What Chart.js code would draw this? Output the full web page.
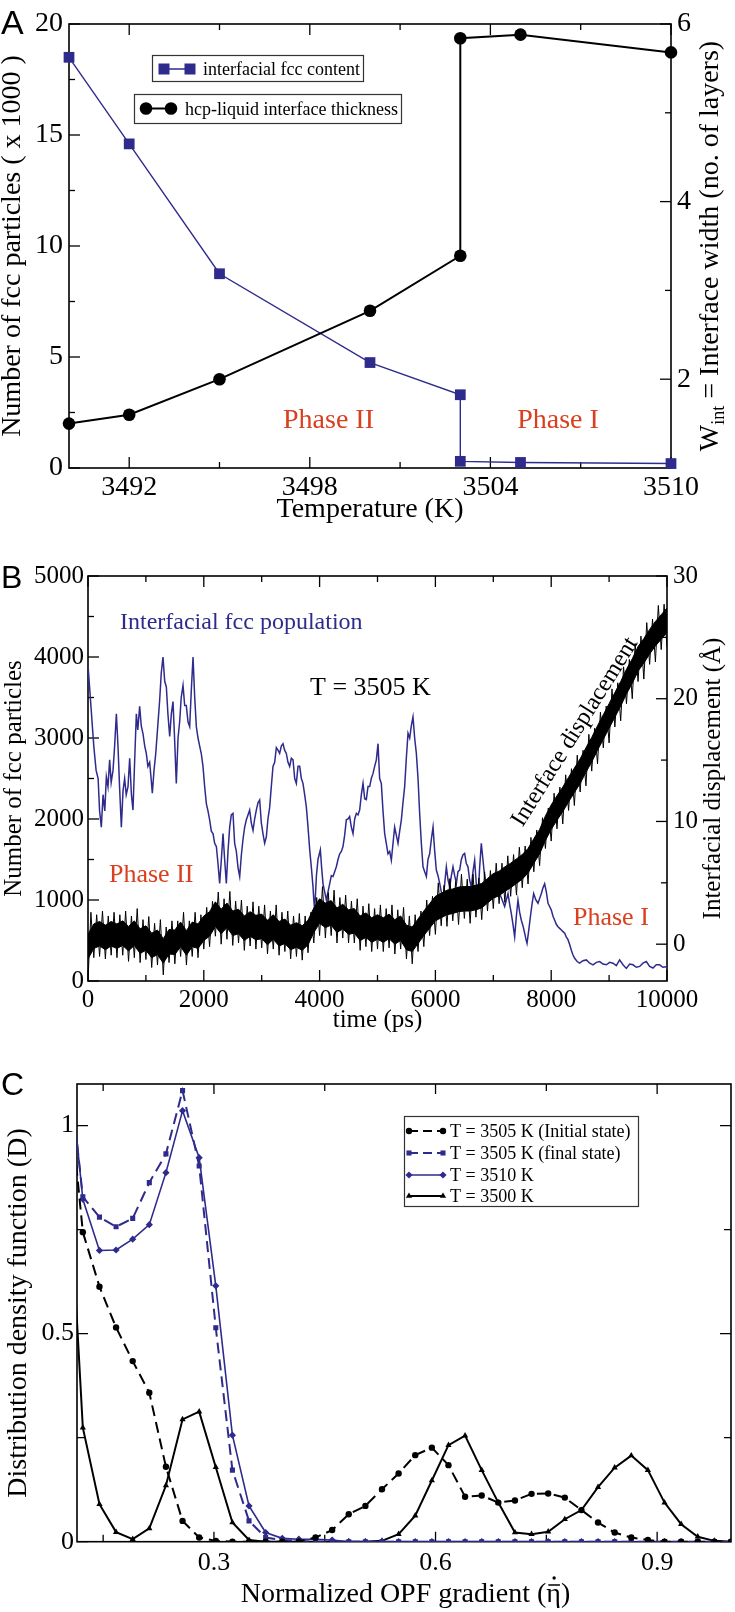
<!DOCTYPE html>
<html>
<head>
<meta charset="utf-8">
<script src="https://cdn.jsdelivr.net/npm/chart.js@4.4.1/dist/chart.umd.min.js"></script>
<style>
html, body { margin: 0; padding: 0; background: #fff; }
#wrap { position: relative; width: 735px; height: 1612px; }
canvas { position: absolute; left: 0; }
</style>
</head>
<body>
<div id="wrap">
  <canvas id="chartA" width="735" height="530" style="top:0;width:735px;height:530px"></canvas>
  <canvas id="chartB" width="735" height="530" style="top:530px;width:735px;height:530px"></canvas>
  <canvas id="chartC" width="735" height="552" style="top:1060px;width:735px;height:552px"></canvas>
</div>
<script>
// ---- panel A: temperature scan ----
const fccTemp = [3490, 3492, 3495, 3500, 3503, 3503, 3505, 3510];
const fccCount = [18.5, 14.6, 8.75, 4.75, 3.3, 0.3, 0.25, 0.2];       // x 1000
const hcpTemp = [3490, 3492, 3495, 3500, 3503, 3503, 3505, 3510];
const hcpWidth = [1.5, 1.6, 2.0, 2.77, 3.39, 5.84, 5.88, 5.68];       // layers
const tempTicks = [3492, 3498, 3504, 3510];
const tempMinor = [3495, 3501, 3507];
const fccTicks = [0, 5, 10, 15, 20];
const fccMinor = [2.5, 7.5, 12.5, 17.5];
const widthTicks = [2, 4, 6];
const widthMinor = [3, 5];

// ---- panel B: time series at 3505 K ----
// [time (ps), interfacial fcc count]
const fccTrace = [
  [0,3900],[30,3600],[60,3300],[100,2900],[140,2600],[175,2500],[200,2100],[230,1900],[260,2300],[290,2100],
  [317,2520],[345,2400],[374,2730],[400,2450],[432,2600],[460,2900],[490,3300],[518,2900],[545,2400],[576,1900],
  [605,2350],[633,2500],[660,2300],[691,2400],[720,2750],[750,2300],[777,2110],[805,2700],[835,3300],[860,3100],
  [892,3390],[920,3150],[950,3050],[980,2900],[1007,2810],[1035,2650],[1065,2700],[1090,2500],[1111,2320],[1140,2600],
  [1169,2800],[1200,3100],[1238,3470],[1265,3800],[1295,4000],[1325,3700],[1353,3630],[1380,3300],[1411,3020],[1440,3300],
  [1468,3450],[1495,3000],[1525,2440],[1555,3000],[1583,3200],[1610,3500],[1641,3650],[1670,3400],[1698,3400],[1727,3200],
  [1756,3140],[1785,3600],[1814,4000],[1843,3500],[1871,3140],[1900,3000],[1929,2900],[1958,2800],[1986,2650],[2015,2400],
  [2044,2190],[2072,2100],[2101,1990],[2130,1850],[2159,1820],[2188,1700],[2217,1660],[2245,1450],[2274,1205],[2303,1500],
  [2332,1820],[2360,1500],[2389,1205],[2418,1600],[2447,1900],[2475,2050],[2504,2070],[2533,1700],[2562,1600],[2591,1400],
  [2620,1290],[2648,1550],[2677,1750],[2706,1900],[2735,1990],[2763,2050],[2792,2110],[2821,1950],[2850,1860],[2878,2000],
  [2907,2110],[2936,2200],[2965,2235],[2994,1950],[3022,1820],[3051,1700],[3080,1780],[3108,2000],[3137,2140],[3166,2400],
  [3195,2650],[3224,2700],[3253,2880],[3281,2850],[3310,2810],[3339,2900],[3368,2930],[3396,2850],[3425,2810],[3454,2700],
  [3483,2650],[3512,2750],[3541,2730],[3570,2500],[3598,2440],[3627,2650],[3656,2650],[3685,2500],[3713,2440],[3742,2300],
  [3771,2150],[3800,1900],[3829,1620],[3858,1400],[3886,1165],[3900,1000],[3915,875],[3945,1300],[3972,1500],[4013,1620],
  [4035,1400],[4059,1200],[4088,1100],[4117,1000],[4145,1100],[4174,1200],[4203,1300],[4232,1290],[4260,1350],[4289,1410],
  [4318,1500],[4347,1570],[4376,1600],[4404,1660],[4433,1800],[4462,1990],[4490,2000],[4519,2030],[4548,1900],[4577,1820],
  [4606,2000],[4635,2070],[4663,2050],[4692,2110],[4721,2300],[4750,2440],[4779,2250],[4807,2240],[4836,2400],[4865,2400],
  [4893,2500],[4922,2560],[4951,2650],[4980,2730],[5009,2930],[5037,2500],[5066,2440],[5095,2100],[5124,1820],[5152,1700],
  [5181,1570],[5210,1600],[5239,1490],[5268,1700],[5296,1900],[5325,1800],[5354,1700],[5383,1850],[5412,1990],[5440,2200],
  [5469,2400],[5498,2750],[5527,3060],[5556,3000],[5584,3150],[5613,3260],[5642,3000],[5671,2810],[5700,2500],[5728,2070],
  [5757,1700],[5786,1410],[5815,1350],[5844,1290],[5872,1500],[5901,1570],[5930,1750],[5959,1900],[5988,1600],[6016,1370],
  [6045,1300],[6074,1205],[6102,1100],[6131,1000],[6160,1200],[6189,1410],[6218,1250],[6247,1160],[6276,1300],[6304,1410],
  [6333,1300],[6362,1205],[6390,1350],[6419,1370],[6448,1500],[6477,1560],[6505,1575],[6534,1450],[6563,1410],[6591,1250],
  [6620,1160],[6649,1350],[6678,1490],[6706,1200],[6735,1000],[6764,1400],[6793,1700],[6821,1500],[6850,1290],[6879,1150],
  [6908,1080],[6937,1200],[6966,1250],[6994,1150],[7023,1160],[7066,1180],[7110,1080],[7153,1000],[7196,920],[7225,1000],
  [7254,1080],[7282,950],[7311,835],[7340,700],[7369,545],[7398,800],[7426,1000],[7455,850],[7484,750],[7513,680],
  [7542,590],[7562,520],[7582,465],[7611,620],[7640,790],[7669,950],[7697,1080],[7735,1000],[7772,960],[7801,1020],
  [7830,1080],[7858,1150],[7887,1200],[7916,1100],[7945,960],[7973,920],[8002,875],[8031,800],[8060,750],[8088,700],
  [8117,670],[8146,650],[8175,630],[8204,610],[8233,590],[8262,540],[8290,510],[8319,450],[8348,380],[8376,320],
  [8405,280],[8448,240],[8491,220],[8549,250],[8607,260],[8665,220],[8722,200],[8780,230],[8837,240],[8895,210],
  [8952,200],[9010,230],[9067,220],[9125,190],[9182,260],[9240,200],[9297,155],[9355,210],[9413,200],[9470,170],
  [9528,180],[9585,220],[9643,240],[9700,180],[9758,160],[9815,200],[9873,200],[9930,170],[9988,175],[10000,180]
];
// [time (ps), lowest spike, highest spike] of the noisy displacement trace (Å)
const dispBand = [
  [0,-3.0,2.6],[100,-1.1,2.4],[200,-1.0,2.7],[300,-1.2,2.3],[400,-0.9,2.6],[500,-1.1,2.4],[600,-0.9,2.7],[700,-1.4,2.3],
  [800,-1.1,2.9],[900,-1.5,2.0],[1000,-1.25,2.25],[1100,-1.9,1.7],[1200,-1.7,2.0],[1300,-2.5,1.4],[1400,-1.5,1.9],
  [1500,-1.6,1.9],[1600,-1.0,2.6],[1700,-1.7,1.9],[1800,-1.0,2.6],[1900,-1.1,2.4],[2000,-0.4,3.0],[2100,-0.2,3.5],
  [2200,0.65,4.25],[2300,0.0,3.7],[2400,0.4,4.3],[2500,-0.1,3.5],[2600,0.1,3.6],[2700,-0.5,3.1],[2800,-0.15,3.45],
  [2900,-0.4,3.1],[3000,-0.3,3.2],[3100,-0.8,2.7],[3200,-0.4,3.2],[3300,-0.9,2.6],[3400,-0.6,2.7],[3500,-1.2,2.3],
  [3600,-1.0,2.5],[3700,-1.3,2.3],[3800,-0.7,2.6],[3900,0.1,3.8],[4000,0.7,4.7],[4100,0.5,4.2],[4200,0.7,4.4],
  [4300,0.1,3.8],[4400,0.5,4.0],[4500,0.1,3.5],[4600,0.1,3.7],[4700,-0.5,3.1],[4800,-0.2,3.3],[4900,-0.6,2.9],
  [5000,-0.4,3.2],[5100,-0.6,2.9],[5200,-0.3,3.2],[5300,-0.8,2.8],[5400,-0.4,3.0],[5500,-1.2,2.3],[5600,-1.6,2.4],
  [5700,-0.6,2.7],[5800,-0.2,3.6],[5900,0.7,3.9],[6000,0.8,5.0],[6100,1.5,4.8],[6200,1.45,5.35],[6300,1.9,5.1],
  [6400,1.6,5.7],[6500,2.1,5.3],[6600,1.7,5.7],[6700,2.2,5.4],[6800,2.0,5.9],[6900,2.7,6.0],[7000,2.9,6.6],
  [7100,3.3,6.6],[7200,3.4,7.2],[7300,3.9,7.3],[7400,4.0,7.9],[7500,4.6,8.0],[7600,4.9,8.7],[7700,5.9,9.3],
  [7800,6.4,10.3],[7900,7.8,11.1],[8000,8.4,12.3],[8100,9.4,12.8],[8200,9.8,13.8],[8300,10.9,14.3],
  [8400,11.3,15.4],[8500,12.4,15.8],[8600,12.9,17.1],[8700,14.1,17.6],[8800,14.7,18.9],[8900,16.0,19.4],
  [9000,16.4,20.8],[9100,17.7,21.3],[9200,18.2,22.6],[9300,19.6,23.2],[9400,20.0,24.5],[9500,21.4,25.1],
  [9600,21.6,26.2],[9700,22.8,26.5],[9800,23.0,27.6],[9900,24.0,27.7],[10000,24.2,28.6]
];
const timeTicks = [0, 2000, 4000, 6000, 8000, 10000];
const timeMinor = [1000, 3000, 5000, 7000, 9000];
const popTicks = [0, 1000, 2000, 3000, 4000, 5000];
const popMinor = [500, 1500, 2500, 3500, 4500];
const dispTicks = [0, 10, 20, 30];
const dispMinor = [5, 15, 25];

// ---- panel C: distribution of the normalized OPF gradient ----
const opfX = [0.1, 0.1225, 0.145, 0.1675, 0.19, 0.2125, 0.235, 0.2575, 0.28, 0.3025, 0.325, 0.3475, 0.37, 0.3925,
  0.415, 0.4375, 0.46, 0.4825, 0.505, 0.5275, 0.55, 0.5725, 0.595, 0.6175, 0.64, 0.6625, 0.685, 0.7075, 0.73,
  0.7525, 0.775, 0.7975, 0.82, 0.8425, 0.865, 0.8875, 0.91, 0.9325, 0.955, 0.9775, 1.0];
const d3505Initial = [1.15, 0.744, 0.613, 0.515, 0.434, 0.358, 0.18, 0.05, 0.01, 0.002, 0, 0, 0, 0,
  0, 0.01, 0.028, 0.066, 0.086, 0.126, 0.164, 0.208, 0.226, 0.184, 0.108, 0.111, 0.094, 0.099, 0.115,
  0.116, 0.106, 0.076, 0.046, 0.022, 0.01, 0.004, 0, 0, 0, 0, 0];
const d3505Final = [1.2, 0.829, 0.78, 0.757, 0.777, 0.863, 0.932, 1.084, 0.903, 0.514, 0.172, 0.05, 0.01, 0.004,
  0.002, 0, 0, 0, 0, 0, 0, 0, 0, 0, 0, 0, 0, 0, 0, 0, 0, 0, 0, 0, 0, 0, 0, 0, 0, 0, 0];
const d3510 = [1.22, 0.823, 0.70, 0.701, 0.727, 0.762, 0.887, 1.036, 0.923, 0.615, 0.256, 0.086, 0.022, 0.008,
  0.006, 0.006, 0.004, 0, 0, 0, 0, 0, 0, 0, 0, 0, 0, 0, 0, 0, 0, 0, 0, 0, 0, 0, 0, 0, 0, 0, 0];
const d3500 = [1.0, 0.274, 0.09, 0.023, 0.006, 0.032, 0.135, 0.294, 0.3125, 0.179, 0.046, 0.004, 0, 0,
  0, 0, 0, 0, 0, 0.002, 0.018, 0.0625, 0.147, 0.232, 0.255, 0.172, 0.094, 0.022, 0.018,
  0.024, 0.054, 0.076, 0.131, 0.178, 0.207, 0.172, 0.094, 0.042, 0.012, 0.002, 0];
const opfTicks = [0.3, 0.6, 0.9];
const opfMinor = [0.15, 0.45, 0.75];
const densTicks = [0, 0.5, 1];
const densMinor = [0.25, 0.75];
const legendC = ['T = 3505 K (Initial state)', 'T = 3505 K (final state)', 'T = 3510 K', 'T = 3500 K'];

const BLUE = '#2f2b8d';
const RED = '#d8401f';
const SERIF = '"Liberation Serif", "Times New Roman", serif';
const SANS = '"Liberation Sans", Arial, sans-serif';

Chart.defaults.font.family = SERIF;
Chart.defaults.color = '#000';

const pairs = (xs, ys) => xs.map((x, i) => ({x: x, y: ys[i]}));
const font = size => size + 'px ' + SERIF;

function text(ctx, s, x, y, o) {
  o = o || {};
  ctx.save();
  ctx.font = o.font || font(27);
  ctx.fillStyle = o.color || '#000';
  ctx.textAlign = o.align || 'left';
  ctx.textBaseline = o.base || 'alphabetic';
  ctx.translate(x, y);
  if (o.rot) ctx.rotate(o.rot);
  ctx.fillText(s, 0, 0);
  ctx.restore();
}

function linAxis(pos, min, max, labels, size, fontSize, pad) {
  return {
    type: 'linear', position: pos, min: min, max: max,
    afterFit: s => { if (pos === 'bottom') s.height = size; else s.width = size; },
    afterBuildTicks: s => { s.ticks = labels.map(v => ({value: v})); },
    grid: {display: false, drawTicks: false},
    border: {display: false},
    ticks: {autoSkip: false, maxRotation: 0, padding: pad, color: '#000',
      font: {family: SERIF, size: fontSize}, callback: v => String(v)}
  };
}

// frame + inward tick marks, then the texts drawn by `extra`
function decor(tickSpecs, extra) {
  return {
    id: 'decor',
    beforeDatasetsDraw(chart) {
      const ctx = chart.ctx, a = chart.chartArea;
      ctx.save();
      ctx.strokeStyle = '#000';
      ctx.lineWidth = 1.6;
      ctx.strokeRect(a.left, a.top, a.right - a.left, a.bottom - a.top);
      ctx.lineWidth = 1.3;
      tickSpecs.forEach(t => {
        const s = chart.scales[t.axis];
        [[t.major, t.big], [t.minor, t.small]].forEach(([vals, len]) => {
          vals.forEach(v => {
            const p = s.getPixelForValue(v);
            ctx.beginPath();
            t.sides.forEach(side => {
              if (side === 'bottom') { ctx.moveTo(p, a.bottom); ctx.lineTo(p, a.bottom - len); }
              if (side === 'top') { ctx.moveTo(p, a.top); ctx.lineTo(p, a.top + len); }
              if (side === 'left') { ctx.moveTo(a.left, p); ctx.lineTo(a.left + len, p); }
              if (side === 'right') { ctx.moveTo(a.right, p); ctx.lineTo(a.right - len, p); }
            });
            ctx.stroke();
          });
        });
      });
      ctx.restore();
    },
    afterDraw(chart) { extra(chart.ctx, chart); }
  };
}

const baseOpts = {
  responsive: false, animation: false, devicePixelRatio: 1, events: [],
  plugins: {legend: {display: false}, tooltip: {enabled: false}},
  elements: {line: {tension: 0}}
};

// ================= A =================
new Chart(document.getElementById('chartA'), {
  type: 'line',
  data: {datasets: [
    {data: pairs(hcpTemp, hcpWidth), yAxisID: 'y2', borderColor: '#000', borderWidth: 2,
      pointStyle: 'circle', pointRadius: 6.3, pointBackgroundColor: '#000', pointBorderWidth: 0, clip: false},
    {data: pairs(fccTemp, fccCount), yAxisID: 'y', borderColor: BLUE, borderWidth: 1.4,
      pointStyle: 'rect', pointRadius: 7.6, pointBackgroundColor: BLUE, pointBorderWidth: 0, clip: false}
  ]},
  options: Object.assign({}, baseOpts, {
    layout: {padding: {top: 24, left: 0, right: 0, bottom: 0}},
    scales: {
      x: linAxis('bottom', 3490, 3510, tempTicks, 62, 28, 3),
      y: linAxis('left', 0, 20, fccTicks, 69, 28, 6),
      y2: linAxis('right', 1, 6, widthTicks, 64, 28, 6)
    }
  }),
  plugins: [decor([
    {axis: 'x', major: tempTicks, minor: tempMinor, sides: ['bottom', 'top'], big: 11, small: 6},
    {axis: 'y', major: fccTicks, minor: fccMinor, sides: ['left'], big: 11, small: 6},
    {axis: 'y2', major: widthTicks, minor: widthMinor, sides: ['right'], big: 11, small: 6}
  ], ctx => {
    text(ctx, 'A', 1, 34, {font: '34px ' + SANS});
    text(ctx, 'Number of fcc particles ( x 1000 )', 20, 246, {rot: -Math.PI / 2, align: 'center', font: font(28)});
    // right title with subscript
    ctx.save();
    ctx.translate(718, 246);
    ctx.rotate(-Math.PI / 2);
    ctx.fillStyle = '#000';
    ctx.font = font(28);
    const rest = ' = Interface width (no. of layers)';
    const wW = ctx.measureText('W').width, wR = ctx.measureText(rest).width;
    ctx.font = font(18);
    const wS = ctx.measureText('int').width;
    const x0 = -(wW + wS + wR) / 2;
    ctx.font = font(28); ctx.fillText('W', x0, 0);
    ctx.font = font(18); ctx.fillText('int', x0 + wW, 6);
    ctx.font = font(28); ctx.fillText(rest, x0 + wW + wS, 0);
    ctx.restore();
    text(ctx, 'Temperature (K)', 370, 517, {align: 'center', font: font(28)});
    text(ctx, 'Phase II', 328.5, 428, {align: 'center', color: RED, font: font(28)});
    text(ctx, 'Phase I', 558, 428, {align: 'center', color: RED, font: font(28)});
    // legend boxes
    ctx.save();
    ctx.strokeStyle = '#333'; ctx.lineWidth = 1.2;
    ctx.strokeRect(152.5, 55.5, 211, 26);
    ctx.strokeRect(134.5, 94.5, 267, 29);
    ctx.strokeStyle = BLUE; ctx.fillStyle = BLUE; ctx.lineWidth = 1.5;
    ctx.beginPath(); ctx.moveTo(164, 69); ctx.lineTo(190, 69); ctx.stroke();
    ctx.fillRect(158.5, 63.5, 11, 11); ctx.fillRect(184.5, 63.5, 11, 11);
    ctx.strokeStyle = '#000'; ctx.fillStyle = '#000'; ctx.lineWidth = 2;
    ctx.beginPath(); ctx.moveTo(146, 108.5); ctx.lineTo(171, 108.5); ctx.stroke();
    ctx.beginPath(); ctx.arc(146, 108.5, 6.3, 0, Math.PI * 2); ctx.fill();
    ctx.beginPath(); ctx.arc(171, 108.5, 6.3, 0, Math.PI * 2); ctx.fill();
    ctx.restore();
    text(ctx, 'interfacial fcc content', 203, 75, {font: font(18)});
    text(ctx, 'hcp-liquid interface thickness', 185, 114.5, {font: font(18)});
  })]
});

// ================= B =================
// noisy displacement: a zig-zag between the read spike extremes, over a solid core
const dispZig = [];
dispBand.forEach(r => { dispZig.push({x: r[0], y: r[1]}); dispZig.push({x: r[0] + 50, y: r[2]}); });
const dispMid = dispBand.map(r => (r[1] + r[2]) / 2);
new Chart(document.getElementById('chartB'), {
  type: 'line',
  data: {datasets: [
    {data: dispZig, yAxisID: 'y2', borderColor: '#000', borderWidth: 1, pointRadius: 0, fill: false},
    {data: dispBand.map((r, i) => ({x: r[0], y: dispMid[i] - 1.0})), yAxisID: 'y2', borderColor: '#000',
      borderWidth: 1, pointRadius: 0, fill: false},
    {data: dispBand.map((r, i) => ({x: r[0], y: dispMid[i] + 1.0})), yAxisID: 'y2', borderColor: '#000',
      borderWidth: 1, pointRadius: 0, fill: '-1', backgroundColor: '#000'},
    {data: fccTrace.map(r => ({x: r[0], y: r[1]})), yAxisID: 'y', borderColor: BLUE, borderWidth: 1.5,
      pointRadius: 0, fill: false}
  ]},
  options: Object.assign({}, baseOpts, {
    layout: {padding: {top: 46, left: 0, right: 0, bottom: 0}},
    scales: {
      x: linAxis('bottom', 0, 10000, timeTicks, 79, 25, 4),
      y: linAxis('left', 0, 5000, popTicks, 88, 25, 4),
      y2: linAxis('right', -3, 30, dispTicks, 68, 25, 6)
    }
  }),
  plugins: [decor([
    {axis: 'x', major: timeTicks, minor: timeMinor, sides: ['bottom', 'top'], big: 11, small: 6},
    {axis: 'y', major: popTicks, minor: popMinor, sides: ['left'], big: 11, small: 6},
    {axis: 'y2', major: dispTicks, minor: dispMinor, sides: ['right'], big: 11, small: 6}
  ], ctx => {
    text(ctx, 'B', 1, 58, {font: '32px ' + SANS});
    text(ctx, 'Number of fcc particles', 21, 248.5, {rot: -Math.PI / 2, align: 'center', font: font(25)});
    text(ctx, 'Interfacial displacement (Å)', 720, 248.5, {rot: -Math.PI / 2, align: 'center', font: font(25)});
    text(ctx, 'time (ps)', 377.5, 497, {align: 'center', font: font(25)});
    text(ctx, 'Interfacial fcc population', 120, 99, {color: BLUE, font: font(24)});
    text(ctx, 'T = 3505 K', 310, 165, {font: font(26)});
    text(ctx, 'Phase II', 109, 352, {color: RED, font: font(26)});
    text(ctx, 'Phase I', 573, 395, {color: RED, font: font(26)});
    text(ctx, 'Interface displacement', 575, 202, {rot: -58 * Math.PI / 180, align: 'center', base: 'middle', font: font(24)});
  })]
});

// ================= C =================
const cSeries = [
  {y: d3505Initial, color: '#000', dash: [11, 6], style: 'circle', r: 3.2, w: 2},
  {y: d3505Final, color: BLUE, dash: [11, 6], style: 'rect', r: 3.6, w: 2},
  {y: d3510, color: BLUE, dash: [], style: 'rectRot', r: 3.6, w: 1.6},
  {y: d3500, color: '#000', dash: [], style: 'triangle', r: 3.6, w: 2}
];
new Chart(document.getElementById('chartC'), {
  type: 'line',
  data: {datasets: cSeries.map(s => ({
    data: pairs(opfX, s.y), borderColor: s.color, borderWidth: s.w, borderDash: s.dash,
    pointStyle: s.style, pointRadius: s.r, pointBackgroundColor: s.color, pointBorderWidth: 0
  }))},
  options: Object.assign({}, baseOpts, {
    layout: {padding: {top: 24, left: 0, right: 3.3, bottom: 0}},
    scales: {
      x: linAxis('bottom', 0.1146, 1.0, opfTicks, 70.3, 26, 6),
      y: linAxis('left', 0, 1.1, densTicks, 77, 26, 3)
    }
  }),
  plugins: [decor([
    {axis: 'x', major: opfTicks, minor: opfMinor, sides: ['bottom', 'top'], big: 10, small: 7},
    {axis: 'y', major: densTicks, minor: densMinor, sides: ['left', 'right'], big: 11, small: 7}
  ], ctx => {
    text(ctx, 'C', 1, 35, {font: '32px ' + SANS});
    text(ctx, 'Distribution density function (D)', 26, 253, {rot: -Math.PI / 2, align: 'center', font: font(28)});
    // x title with barred, dotted eta
    ctx.save();
    ctx.font = font(28);
    ctx.fillStyle = '#000'; ctx.strokeStyle = '#000';
    const pre = 'Normalized OPF gradient (', eta = '\u03B7', post = ')';
    const wp = ctx.measureText(pre).width, we = ctx.measureText(eta).width, wq = ctx.measureText(post).width;
    const sx = 405.5 - (wp + we + wq) / 2, by = 542;
    ctx.fillText(pre, sx, by);
    ctx.fillText(eta, sx + wp, by);
    ctx.fillText(post, sx + wp + we, by);
    ctx.lineWidth = 1.5;
    ctx.beginPath(); ctx.moveTo(sx + wp + 2, by - 17); ctx.lineTo(sx + wp + we - 1, by - 17); ctx.stroke();
    ctx.beginPath(); ctx.arc(sx + wp + we / 2 + 0.5, by - 24, 1.7, 0, Math.PI * 2); ctx.fill();
    ctx.restore();
    // legend
    ctx.save();
    ctx.strokeStyle = '#333'; ctx.lineWidth = 1.2;
    ctx.strokeRect(404.5, 56.5, 234, 90);
    const rows = [71, 93, 115, 136];
    cSeries.forEach((s, i) => {
      const y = rows[i];
      ctx.strokeStyle = s.color; ctx.fillStyle = s.color; ctx.lineWidth = s.w;
      ctx.setLineDash(s.dash.length ? [9, 5] : []);
      ctx.beginPath(); ctx.moveTo(409, y); ctx.lineTo(443, y); ctx.stroke();
      ctx.setLineDash([]);
      [409, 443].forEach(px => Chart.helpers.drawPoint(ctx,
        {pointStyle: s.style, radius: s.r, rotation: 0, borderWidth: 0}, px, y));
      text(ctx, legendC[i], 450, y + 6, {font: font(18)});
    });
    ctx.restore();
  })]
});
</script>
</body>
</html>
